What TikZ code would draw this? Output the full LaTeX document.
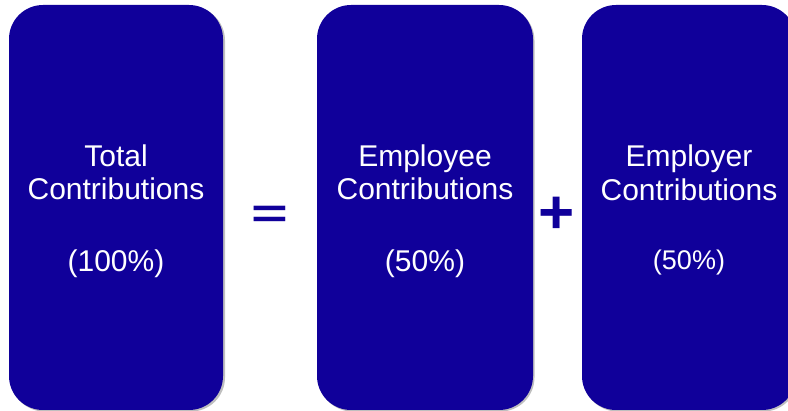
\documentclass[tikz,border=0pt]{standalone}
\usepackage{graphicx}
\usepackage{fontspec}
\setmainfont{Liberation Sans}
\definecolor{boxblue}{RGB}{16,0,154}
\tikzset{
  box/.style={fill=boxblue, rounded corners=34pt},
  boxshadow/.style={fill=black!25, rounded corners=34pt},
  lbl/.style={text=white, anchor=base, inner sep=0pt, font=\fontsize{30}{30}\selectfont},
  lblsmall/.style={text=white, anchor=base, inner sep=0pt, font=\fontsize{27}{27}\selectfont},
  opeq/.style={text=boxblue, anchor=base, inner sep=0pt, font=\bfseries\fontsize{63}{63}\selectfont},
  opplus/.style={text=boxblue, anchor=base, inner sep=0pt, font=\bfseries\fontsize{62}{62}\selectfont},
}
\begin{document}
\begin{tikzpicture}[x=1pt,y=-1pt]
\useasboundingbox (0,0) rectangle (788,411);
\begin{scope}
\clip (0,0) rectangle (788,411);
% shadows
\fill[boxshadow] (10.5,6.5) rectangle (225,411.5);
\fill[boxshadow] (318.5,6.5) rectangle (534.5,411.5);
\fill[boxshadow] (583.5,6.5) rectangle (797.5,411.5);
% boxes
\node[box, minimum width=214pt, minimum height=405pt, inner sep=0pt] (b1) at (116,207.5) {};
\node[box, minimum width=216pt, minimum height=405pt, inner sep=0pt] (b2) at (425,207.5) {};
\node[box, minimum width=214pt, minimum height=405pt, inner sep=0pt] (b3) at (689,207.5) {};
\end{scope}
% texts
\node[lbl] (t1a) at (116,167) {Total};
\node[lbl] (t1b) at (116,200) {Contributions};
\node[lbl] (t1c) at (116,272) {(100\%)};
\node[lbl] (t2a) at (425,167) {Employee};
\node[lbl] (t2b) at (425,200) {Contributions};
\node[lbl] (t2c) at (425,272) {(50\%)};
\node[lbl] (t3a) at (689,167) {Employer};
\node[lbl] (t3b) at (689,201) {Contributions};
\node[lblsmall] (t3c) at (689,270) {(50\%)};
% operators
\node[opeq] (eq) at (270,228) {\scalebox{1}[0.65]{=}};
\node[opplus] (plus) at (557,233.5) {+};
\end{tikzpicture}
\end{document}
